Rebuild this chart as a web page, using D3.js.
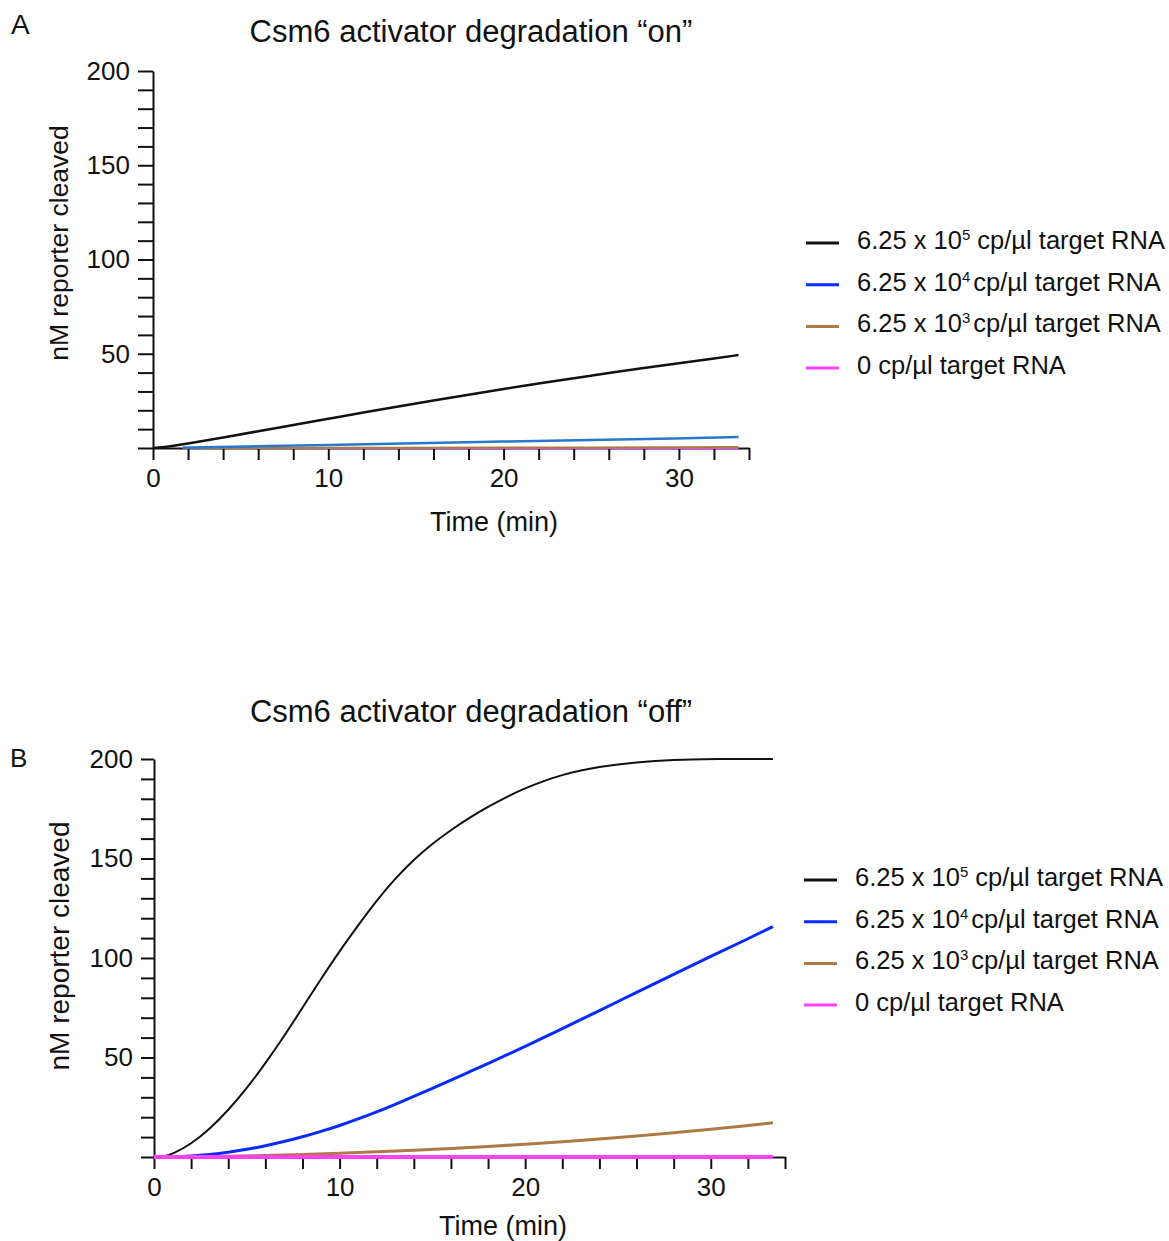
<!DOCTYPE html>
<html lang="en">
<head>
    <meta charset="UTF-8">
    <title>Csm6 activator degradation</title>
    <script src="https://d3js.org/d3.v7.min.js"></script>
    <style>
        body { margin: 0; background: #fff; }
        text { font-family: "Liberation Sans", Arial, Helvetica, sans-serif; fill: #111; }
    </style>
</head>
<body>
<script>
    const width = 1169;
    const height = 1241;

    // legend entries (same four conditions in both panels)
    const legendLabels = [
        ["6.25 x 10", "5", " cp/\u00b5l target RNA"],
        ["6.25 x 10", "4", "cp/\u00b5l target RNA"],
        ["6.25 x 10", "3", "cp/\u00b5l target RNA"],
        ["0 cp/\u00b5l target RNA", "", ""]
    ];
    const legendColors = ["#111111", "#0a2bff", "#ad7a45", "#ff40ff"];

    // panel A: degradation "on"
    const blackA_t = [0, 0.5, 1, 2, 4, 6, 8, 10, 12, 14, 16, 18, 20, 22, 24, 26, 28, 30, 32, 33.4];
    const blackA_v = [0, 0.3, 0.9, 2.4, 5.6, 8.9, 12.2, 15.5, 18.8, 22.0, 25.2, 28.3, 31.3, 34.2, 37.0, 39.8, 42.4, 45.0, 47.5, 49.3];
    const otherA_t = [1.7, 5, 10, 15, 20, 25, 30, 33.4];
    const blueA_v = [0.2, 0.8, 1.6, 2.5, 3.4, 4.3, 5.1, 5.8];
    const brownA_v = [0, 0.05, 0.1, 0.15, 0.2, 0.3, 0.4, 0.5];
    const pinkA_v = [0, 0, 0, 0, 0, 0, 0, 0];

    // panel B: degradation "off"
    const blackB_t = [0, 0.5, 1, 2, 3, 4, 5, 6, 7, 8, 9, 10, 11, 12, 13, 14, 15, 16, 17, 18, 19, 20, 21, 22, 23, 24, 25, 26, 27, 28, 29, 30, 33.35];
    const blackB_v = [0, 0, 1.5, 6.5, 14, 23.5, 34.5, 47, 60.5, 75, 89.5, 103.5, 116.5, 129, 140, 149.5, 157.5, 164.3, 170.5, 176, 181, 185.3, 189, 192, 194.3, 196, 197.3, 198.3, 199, 199.5, 199.8, 200, 200];
    const blueB_t = [0, 1, 2, 3, 4, 5, 6, 7, 8, 9, 10, 11, 12, 13, 14, 15, 16, 17, 18, 20, 22, 24, 26, 28, 30, 32, 33.35];
    const blueB_v = [0, 0.1, 0.5, 1.2, 2.3, 3.8, 5.6, 7.7, 10.1, 12.8, 15.8, 19.1, 22.6, 26.4, 30.4, 34.5, 38.7, 42.8, 46.9, 55.5, 64.5, 73.6, 82.7, 91.8, 100.8, 109.6, 115.8];
    const brownB_t = [0, 2, 4, 6, 8, 10, 12, 14, 16, 18, 20, 22, 24, 26, 28, 30, 32, 33.35];
    const brownB_v = [0, 0.1, 0.3, 0.7, 1.2, 1.8, 2.6, 3.4, 4.3, 5.3, 6.4, 7.6, 9.0, 10.5, 12.2, 13.9, 15.8, 17.2];
    const pinkB_t = [0, 33.35];
    const pinkB_v = [0, 0];

    const xTicks = d3.range(0, 35, 2);
    const yTicks = d3.range(0, 201, 10);

    const svg = d3.select("body").append("svg")
        .attr("width", width)
        .attr("height", height);

    function zip(t, v) {
        return t.map((d, i) => ({ t: d, v: v[i] }));
    }

    function drawPanel(cfg) {
        const x = d3.scaleLinear().domain([0, 34]).range([cfg.left, cfg.right]);
        const y = d3.scaleLinear().domain([0, 200]).range([cfg.bottom, cfg.top]);
        const g = svg.append("g");

        g.append("text")
            .attr("x", cfg.letterX).attr("y", cfg.letterY)
            .style("font-size", cfg.letterSize + "px")
            .text(cfg.letter);

        g.append("text")
            .attr("x", cfg.titleX).attr("y", cfg.titleY)
            .attr("text-anchor", "middle")
            .style("font-size", "31px")
            .text(cfg.title);

        const yAxis = g.append("g")
            .attr("transform", `translate(${cfg.left},0)`)
            .call(d3.axisLeft(y).tickValues(yTicks).tickSize(cfg.yTick).tickSizeOuter(0).tickPadding(8)
                .tickFormat(d => (d > 0 && d % 50 === 0) ? d : ""));

        const xAxis = g.append("g")
            .attr("transform", `translate(0,${cfg.bottom})`)
            .call(d3.axisBottom(x).tickValues(xTicks).tickSize(12).tickSizeOuter(0).tickPadding(9)
                .tickFormat(d => d % 10 === 0 ? d : ""));

        [yAxis, xAxis].forEach(ax => {
            ax.selectAll("path, line").attr("stroke", "#111").attr("stroke-width", 2);
            ax.selectAll("text")
                .style("font-size", "26px")
                .style("font-family", "'Liberation Sans', Arial, sans-serif")
                .attr("fill", "#111");
        });

        g.append("text")
            .attr("transform", `translate(${cfg.yLabelX},${cfg.yLabelY}) rotate(-90)`)
            .attr("text-anchor", "middle")
            .style("font-size", cfg.yLabelSize + "px")
            .text("nM reporter cleaved");

        g.append("text")
            .attr("x", cfg.xLabelX).attr("y", cfg.xLabelY)
            .attr("text-anchor", "middle")
            .style("font-size", "27px")
            .text("Time (min)");

        const line = d3.line()
            .x(d => x(d.t))
            .y(d => y(d.v))
            .curve(d3.curveBasis);

        cfg.series.forEach(s => {
            g.append("path")
                .datum(zip(s.t, s.v))
                .attr("fill", "none")
                .attr("stroke", s.color)
                .attr("stroke-width", s.w)
                .attr("d", line);
        });

        // legend
        const leg = g.append("g");
        legendLabels.forEach((lab, i) => {
            const ly = cfg.legendY + i * 41.7;
            leg.append("line")
                .attr("x1", cfg.legendX).attr("x2", cfg.legendX + 33)
                .attr("y1", ly).attr("y2", ly)
                .attr("stroke", legendColors[i])
                .attr("stroke-width", 3);
            const t = leg.append("text")
                .attr("x", cfg.legendX + 51)
                .attr("y", ly + 6)
                .style("font-size", "25.5px");
            t.append("tspan").text(lab[0]);
            if (lab[1]) {
                t.append("tspan").attr("dy", -9).style("font-size", "15px").text(lab[1]);
                t.append("tspan").attr("dy", 9).attr("dx", i === 0 ? 0 : 3).text(lab[2]);
            }
        });
    }

    drawPanel({
        letter: "A", letterX: 11, letterY: 34, letterSize: 28,
        title: "Csm6 activator degradation \u201con\u201d", titleX: 471, titleY: 42,
        left: 153, right: 749, top: 71, bottom: 448, yTick: 15,
        yLabelX: 68, yLabelY: 243, yLabelSize: 26.5,
        xLabelX: 494, xLabelY: 531,
        legendX: 806, legendY: 243,
        series: [
            { t: otherA_t, v: pinkA_v, color: "#ff40ff", w: 2 },
            { t: otherA_t, v: brownA_v, color: "#ad7a45", w: 2 },
            { t: otherA_t, v: blueA_v, color: "#2878cc", w: 2.5 },
            { t: blackA_t, v: blackA_v, color: "#111111", w: 2.5 }
        ]
    });

    drawPanel({
        letter: "B", letterX: 10, letterY: 767, letterSize: 26,
        title: "Csm6 activator degradation \u201coff\u201d", titleX: 471, titleY: 722,
        left: 154, right: 785, top: 759, bottom: 1157, yTick: 13,
        yLabelX: 69, yLabelY: 946, yLabelSize: 28,
        xLabelX: 503, xLabelY: 1235,
        legendX: 804, legendY: 880,
        series: [
            { t: blackB_t, v: blackB_v, color: "#111111", w: 2 },
            { t: blueB_t, v: blueB_v, color: "#0a2bff", w: 3 },
            { t: brownB_t, v: brownB_v, color: "#ad7a45", w: 3 },
            { t: pinkB_t, v: pinkB_v, color: "#ff40ff", w: 4 }
        ]
    });
</script>
</body>
</html>
